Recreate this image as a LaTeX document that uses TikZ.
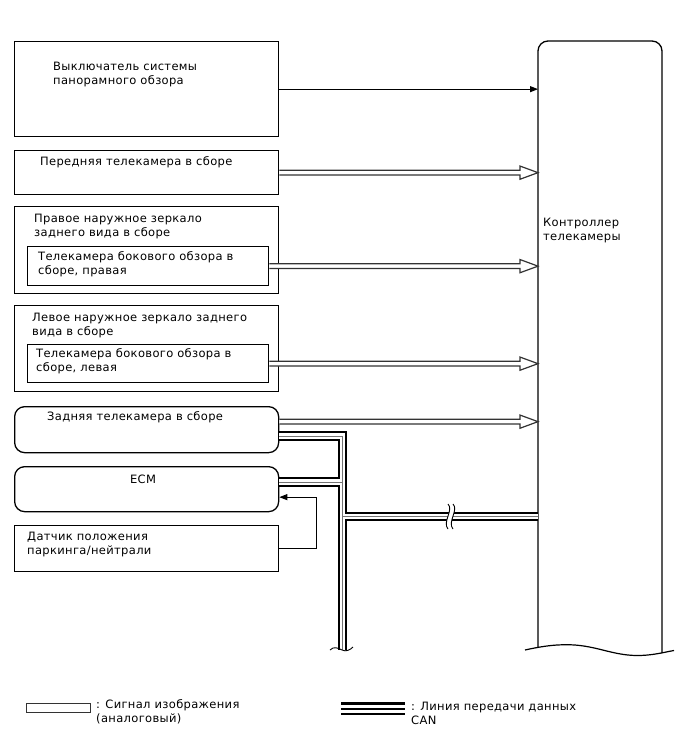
\documentclass[tikz,border=0pt]{standalone}
\usepackage{fontspec}
\setmainfont{DejaVu Sans}[LetterSpace=3]
\usetikzlibrary{arrows.meta,calc}
\begin{document}
\begin{tikzpicture}[x=1pt,y=-1pt,
  box/.style={draw=black,line width=1.3pt,inner sep=0pt,anchor=north west,fill=white},
  rbox/.style={box,rounded corners=10pt},
  txt/.style={anchor=base west,inner sep=0pt,align=left,font=\fontsize{11.5}{13.8}\selectfont},
  sigline/.style={draw=black,line width=1pt},
  img/.style={draw=black!80,line width=1.2pt,fill=white,line join=miter},
  canA/.style={line width=9.6pt,draw=black,line join=miter},
  canB/.style={line width=5.6pt,draw=white,line join=miter},
  canC/.style={line width=1pt,draw=black!55,line join=miter},
]
\useasboundingbox (0,0) rectangle (688,755);

% controller
\node[inner sep=0pt,minimum width=124pt,minimum height=606pt,anchor=north west] (ctrl) at (538,41) {};
\draw[line width=1.3pt,rounded corners=10pt] (538,647) -- (538,41) -- (662,41) -- (662,653);
\draw[line width=1.2pt] (525,650) .. controls (545,645.5) and (560,644) .. (575,645)
  .. controls (600,647) and (615,656) .. (640,655.5) .. controls (655,655) and (665,652) .. (674,650.5);
\node[txt] (ctrltxt) at (543,240) {Контроллер\\телекамеры};

% left boxes
\node[box,minimum width=264pt,minimum height=95pt] (sw) at (14,41) {};
\node[txt] (swt) at (53,84) {Выключатель системы\\панорамного обзора};

\node[box,minimum width=264pt,minimum height=44pt] (fc) at (14,150) {};
\node[txt] (fct) at (40,165) {Передняя телекамера в сборе};

\node[box,minimum width=264pt,minimum height=87pt] (rm) at (14,206) {};
\node[txt] (rmt) at (34,236) {Правое наружное зеркало\\заднего вида в сборе};
\node[box,minimum width=241pt,minimum height=39pt] (rc) at (27,246) {};
\node[txt] (rct) at (38,274) {Телекамера бокового обзора в\\сборе, правая};

\node[box,minimum width=264pt,minimum height=86pt] (lm) at (14,305) {};
\node[txt] (lmt) at (32,335.5) {Левое наружное зеркало заднего\\вида в сборе};
\node[box,minimum width=241pt,minimum height=38pt] (lc) at (27,344) {};
\node[txt] (lct) at (36,371.5) {Телекамера бокового обзора в\\сборе, левая};

\node[rbox,minimum width=264pt,minimum height=46pt] (rr) at (14,406) {};
\node[txt] (rrt) at (47,420) {Задняя телекамера в сборе};

\node[rbox,minimum width=264pt,minimum height=45pt] (ecm) at (14,466) {};
\node[txt,anchor=base] (ecmt) at (143,483) {ECM};

\node[box,minimum width=264pt,minimum height=46pt] (ps) at (14,525) {};
\node[txt] (pst) at (27,554) {Датчик положения\\паркинга/нейтрали};

% switch signal
\draw[sigline,-{Triangle[length=8pt,width=6pt]}] (sw.east) -- (ctrl.west |- sw.east);

% image signal arrows
\newcommand\imgarrow[2]{%
  \path let \p1=(#1), \p2=(#2) in
    [img] (\x1,\y1+2.4pt) -- (\x2-18pt,\y1+2.4pt) -- (\x2-18pt,\y1+6.6pt) -- (\x2,\y1)
      -- (\x2-18pt,\y1-6.6pt) -- (\x2-18pt,\y1-2.4pt) -- (\x1,\y1-2.4pt);}
\imgarrow{fc.east}{ctrl.west}
\imgarrow{rc.east}{ctrl.west}
\imgarrow{lc.east}{ctrl.west}
\coordinate (rrimg) at ($(rr.east)+(0,-8)$);
\imgarrow{rrimg}{ctrl.west}

% CAN bus
\coordinate (rrcan) at ($(rr.east)+(0,6.5)$);
\coordinate (ecmcan) at ($(ecm.east)+(0,-7)$);
\coordinate (tr1) at (342.5,0 |- rrcan);
\coordinate (tr2) at (342.5,0 |- ecmcan);
\coordinate (tr3) at (342.5,516.5);
\coordinate (trb) at (342.5,650);
\coordinate (ctrlcan) at (ctrl.west |- tr3);
\foreach \s in {canA,canB,canC}{
  \draw[\s] (rrcan) -- (tr1) -- (trb);
  \draw[\s] (ecmcan) -- (tr2);
  \draw[\s] (tr3) -- (ctrlcan);
}
% break on horizontal
\fill[white] (448,504) .. controls (454,510) and (442,522) .. (448,529) -- (453,529)
  .. controls (447,522) and (459,510) .. (453,504) -- cycle;
\draw[line width=0.9pt] (448,504) .. controls (454,510) and (442,522) .. (448,529);
\draw[line width=0.9pt] (453,504) .. controls (459,510) and (447,522) .. (453,529);
% break at bottom of trunk
\draw[line width=0.9pt] (330,650) .. controls (334,646) and (338,648) .. (342,650) .. controls (346,652) and (350,650) .. (353,647);

% feedback
\coordinate (fb1) at (316.7,0 |- ps.east);
\coordinate (ecmin) at ($(ecm.east)+(0,8)$);
\coordinate (fb2) at (316.7,0 |- ecmin);
\draw[sigline,-{Triangle[length=8pt,width=6pt]}] (ps.east) -- (fb1) -- (fb2) -- (ecmin);

% legend
\node[draw=black!80,line width=1pt,inner sep=0pt,minimum width=64pt,minimum height=9pt,anchor=north west] (lg1) at (26,703) {};
\node[txt] (lg1t) at (96,722) {: Сигнал изображения\\(аналоговый)};
\coordinate (lg2a) at (341,703.5);
\coordinate (lg2b) at (405,703.5);
\draw[line width=2.6pt] (lg2a) -- (lg2b);
\draw[line width=1.7pt] ($(lg2a)+(0,5.2)$) -- ($(lg2b)+(0,5.2)$);
\draw[line width=2.4pt] ($(lg2a)+(0,10.4)$) -- ($(lg2b)+(0,10.4)$);
\node[txt] (lg2t) at (411,724) {: Линия передачи данных\\CAN};
\end{tikzpicture}
\end{document}
